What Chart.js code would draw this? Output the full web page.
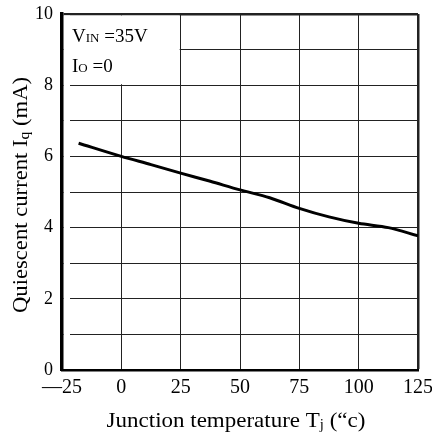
<!DOCTYPE html>
<html>
<head>
<meta charset="utf-8">
<script src="https://cdn.jsdelivr.net/npm/chart.js@4"></script>
<style>
  html, body { margin: 0; padding: 0; background: #fff; }
  #wrap { width: 432px; height: 433px; position: relative; }
</style>
</head>
<body>
<div id="wrap"><canvas id="iqChart"></canvas></div>
<script>
// junction temperature (°C) and quiescent current (mA)
const tempC = [-18, 0, 12.5, 25, 37.5, 50, 62.5, 75, 87.5, 100, 112.5, 125];
const iqMA  = [6.37, 6.0, 5.77, 5.53, 5.3, 5.06, 4.84, 4.54, 4.3, 4.12, 4.0, 3.77];

const xTicks = [-25, 0, 25, 50, 75, 100, 125];
const yLabels = [0, 2, 4, 6, 8, 10];

const SERIF = '"Liberation Serif", "Times New Roman", serif';

// draws text pieces one after another, some of them smaller (subscripts)
function drawParts(ctx, parts, x, y) {
    let cx = x;
    parts.forEach(p => {
        ctx.font = p.size + 'px ' + SERIF;
        ctx.fillText(p.text, cx, y + (p.dy || 0));
        cx += ctx.measureText(p.text).width;
    });
}
function partsWidth(ctx, parts) {
    let w = 0;
    parts.forEach(p => {
        ctx.font = p.size + 'px ' + SERIF;
        w += ctx.measureText(p.text).width;
    });
    return w;
}

// keep the plot box where the layout padding puts it
function noScalePadding(s) {
    s.paddingLeft = 0;
    s.paddingRight = 0;
    s.paddingTop = 0;
    s.paddingBottom = 0;
}

const sheetPlugin = {
    id: 'sheet',
    beforeDatasetsDraw(chart) {
        const { ctx, scales: { x, y } } = chart;
        ctx.save();
        ctx.fillStyle = '#fff';
        // small gap between the left axis and the grid
        ctx.fillRect(64, y.getPixelForValue(10) + 1.5, 6, y.getPixelForValue(0) - y.getPixelForValue(10) - 2.5);
        // blank cell for the test conditions
        const x0 = 64, x1 = x.getPixelForValue(25) - 1;
        const y0 = y.getPixelForValue(10) + 1.5, y1 = y.getPixelForValue(8) - 1;
        ctx.fillRect(x0, y0, x1 - x0, y1 - y0);

        ctx.fillStyle = '#000';
        ctx.textBaseline = 'alphabetic';
        ctx.textAlign = 'left';
        drawParts(ctx, [
            { text: 'V', size: 19 },
            { text: 'IN', size: 13 },
            { text: ' =35V', size: 19 }
        ], 72, 42);
        drawParts(ctx, [
            { text: 'I', size: 19 },
            { text: 'O', size: 13 },
            { text: ' =0', size: 19 }
        ], 72, 72);
        ctx.restore();
    },
    afterDraw(chart) {
        const { ctx } = chart;
        ctx.save();
        ctx.fillStyle = '#000';
        ctx.textBaseline = 'alphabetic';
        ctx.textAlign = 'left';

        // x axis title
        const xt = [
            { text: 'Junction temperature T', size: 22 },
            { text: 'j', size: 14, dy: 2 },
            { text: ' (\u201Cc)', size: 22 }
        ];
        ctx.save();
        ctx.translate(236, 427);
        ctx.scale(1.045, 1);
        drawParts(ctx, xt, -partsWidth(ctx, xt) / 2, 0);
        ctx.restore();

        // y axis title, rotated
        const yt = [
            { text: 'Quiescent current I', size: 22 },
            { text: 'q', size: 15, dy: 2 },
            { text: ' (mA)', size: 22 }
        ];
        ctx.translate(27, 195);
        ctx.rotate(-Math.PI / 2);
        ctx.scale(1.03, 1);
        drawParts(ctx, yt, -partsWidth(ctx, yt) / 2, 0);
        ctx.restore();
    }
};

new Chart(document.getElementById('iqChart'), {
    type: 'line',
    data: {
        datasets: [{
            data: tempC.map((t, i) => ({ x: t, y: iqMA[i] })),
            borderColor: '#000',
            borderWidth: 3,
            pointRadius: 0,
            tension: 0.3,
            fill: false
        }]
    },
    options: {
        responsive: true,
        maintainAspectRatio: false,
        animation: false,
        layout: { padding: { left: 0, right: 14, top: 14, bottom: 0 } },
        plugins: {
            legend: { display: false },
            tooltip: { enabled: false }
        },
        scales: {
            x: {
                type: 'linear',
                min: -25,
                max: 125,
                afterBuildTicks: s => { s.ticks = xTicks.map(v => ({ value: v })); },
                afterFit: s => { s.height = 63; noScalePadding(s); },
                ticks: {
                    padding: 6,
                    maxRotation: 0,
                    color: '#000',
                    font: { family: SERIF, size: 20 },
                    callback: v => v < 0 ? '\u2014' + Math.abs(v) : String(v)
                },
                grid: {
                    drawTicks: false,
                    color: '#222',
                    lineWidth: c => (c.tick && c.tick.value === 125) ? 2.5 : 1
                },
                border: { color: '#000', width: 2.5 }
            },
            y: {
                min: 0,
                max: 10,
                afterFit: s => { s.width = 62; noScalePadding(s); },
                ticks: {
                    stepSize: 1,
                    padding: 9,
                    color: '#000',
                    font: { family: SERIF, size: 18 },
                    callback: v => yLabels.includes(v) ? String(v) : ''
                },
                grid: {
                    drawTicks: false,
                    color: '#222',
                    lineWidth: c => (c.tick && c.tick.value === 10) ? 2.5 : 1
                },
                border: { color: '#000', width: 3.5 }
            }
        }
    },
    plugins: [sheetPlugin]
});
</script>
</body>
</html>
